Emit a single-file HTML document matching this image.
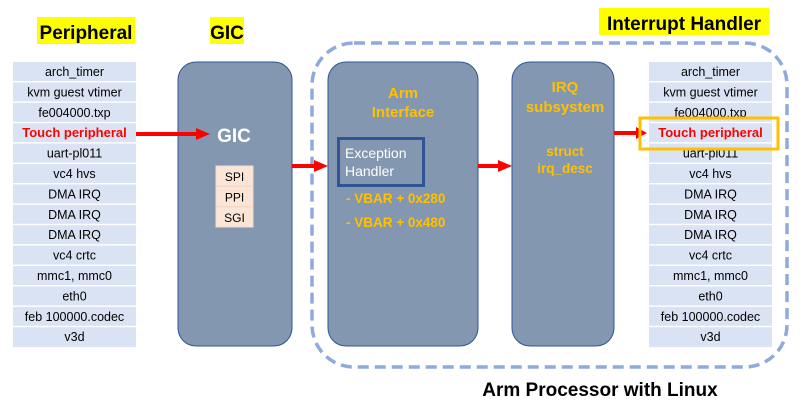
<!DOCTYPE html>
<html><head><meta charset="utf-8"><style>
html,body{margin:0;padding:0;background:#fff}
svg{display:block}
text{font-family:"Liberation Sans",sans-serif}
</style></head><body>
<svg width="803" height="414" viewBox="0 0 803 414" xmlns="http://www.w3.org/2000/svg">
<rect x="37" y="17" width="98" height="27" fill="#ffff00"/>
<text x="86" y="39" font-size="19" font-weight="bold" text-anchor="middle">Peripheral</text>
<rect x="210" y="17" width="34" height="27" fill="#ffff00"/>
<text x="227" y="39" font-size="19" font-weight="bold" text-anchor="middle">GIC</text>
<rect x="599" y="8" width="170" height="27" fill="#ffff00"/>
<text x="684" y="30" font-size="19" font-weight="bold" text-anchor="middle">Interrupt Handler</text>
<text x="600" y="396" font-size="19" font-weight="bold" text-anchor="middle">Arm Processor with Linux</text>

<rect x="312" y="43" width="475" height="324" rx="42" fill="none" stroke="#8faadc" stroke-width="3.5" stroke-dasharray="11,6"/>

<g font-size="12.5" text-anchor="middle" fill="#000">
<g id="L">
<rect x="13" y="62" width="123" height="19" fill="#dae3f3"/>
<rect x="13" y="82.4" width="123" height="19" fill="#dae3f3"/>
<rect x="13" y="102.8" width="123" height="19" fill="#dae3f3"/>
<rect x="13" y="123.2" width="123" height="19" fill="#dae3f3"/>
<rect x="13" y="143.6" width="123" height="19" fill="#dae3f3"/>
<rect x="13" y="164" width="123" height="19" fill="#dae3f3"/>
<rect x="13" y="184.4" width="123" height="19" fill="#dae3f3"/>
<rect x="13" y="204.8" width="123" height="19" fill="#dae3f3"/>
<rect x="13" y="225.2" width="123" height="19" fill="#dae3f3"/>
<rect x="13" y="245.6" width="123" height="19" fill="#dae3f3"/>
<rect x="13" y="266" width="123" height="19" fill="#dae3f3"/>
<rect x="13" y="286.4" width="123" height="19" fill="#dae3f3"/>
<rect x="13" y="306.8" width="123" height="19" fill="#dae3f3"/>
<rect x="13" y="327.2" width="123" height="20" fill="#dae3f3"/>
<text x="74.5" y="76">arch_timer</text>
<text x="74.5" y="96.4">kvm guest vtimer</text>
<text x="74.5" y="116.8">fe004000.txp</text>
<text x="74.5" y="137.2" fill="#ff0000" font-weight="bold" font-size="13">Touch peripheral</text>
<text x="74.5" y="157.6">uart-pl011</text>
<text x="74.5" y="178">vc4 hvs</text>
<text x="74.5" y="198.4">DMA IRQ</text>
<text x="74.5" y="218.8">DMA IRQ</text>
<text x="74.5" y="239.2">DMA IRQ</text>
<text x="74.5" y="259.6">vc4 crtc</text>
<text x="74.5" y="280">mmc1, mmc0</text>
<text x="74.5" y="300.4">eth0</text>
<text x="74.5" y="320.8">feb 100000.codec</text>
<text x="74.5" y="341.2">v3d</text>
</g>
<use href="#L" x="636"/>
</g>

<rect x="178" y="62" width="114" height="284" rx="18" fill="#8497b0" stroke="#2f5597" stroke-width="1"/>
<rect x="328" y="62" width="150" height="284" rx="18" fill="#8497b0" stroke="#2f5597" stroke-width="1"/>
<rect x="512" y="62" width="102" height="284" rx="18" fill="#8497b0" stroke="#2f5597" stroke-width="1"/>

<text x="234" y="142" font-size="19" font-weight="bold" fill="#fff" text-anchor="middle">GIC</text>
<g font-size="12" text-anchor="middle">
<rect x="216" y="166" width="37" height="20" fill="#fbe5d6" stroke="#f4d9c6"/>
<rect x="216" y="186.5" width="37" height="20" fill="#fbe5d6" stroke="#f4d9c6"/>
<rect x="216" y="207" width="37" height="20" fill="#fbe5d6" stroke="#f4d9c6"/>
<text x="234.5" y="181">SPI</text>
<text x="234.5" y="201.5">PPI</text>
<text x="234.5" y="222">SGI</text>
</g>

<g font-size="15" font-weight="bold" fill="#ffc000" text-anchor="middle">
<text x="403" y="98">Arm</text>
<text x="403" y="117">Interface</text>
<text x="565" y="92">IRQ</text>
<text x="565" y="112">subsystem</text>
<text x="565" y="156" font-size="13.5">struct</text>
<text x="565" y="173" font-size="13.5">irq_desc</text>
</g>
<rect x="338.5" y="138.5" width="85" height="47" fill="none" stroke="#2f5597" stroke-width="3"/>
<text x="345" y="158" font-size="14" fill="#fff">Exception</text>
<text x="345" y="176" font-size="14" fill="#fff">Handler</text>
<g font-size="13.5" font-weight="bold" fill="#ffc000">
<text x="346" y="203">- VBAR + 0x280</text>
<text x="346" y="227">- VBAR + 0x480</text>
</g>

<g fill="#ff0000">
<rect x="136" y="132" width="62" height="4"/><polygon points="196,128 210,134 196,140"/>
<rect x="292" y="164" width="24" height="4"/><polygon points="314,160 328,166 314,172"/>
<rect x="478" y="164" width="22" height="4"/><polygon points="498,160 512,166 498,172"/>
<rect x="614" y="131" width="24" height="4"/><polygon points="636,127 647,133 636,139"/>
</g>
<rect x="640" y="118" width="138" height="31" fill="none" stroke="#ffc000" stroke-width="3"/>
</svg>
</body></html>
